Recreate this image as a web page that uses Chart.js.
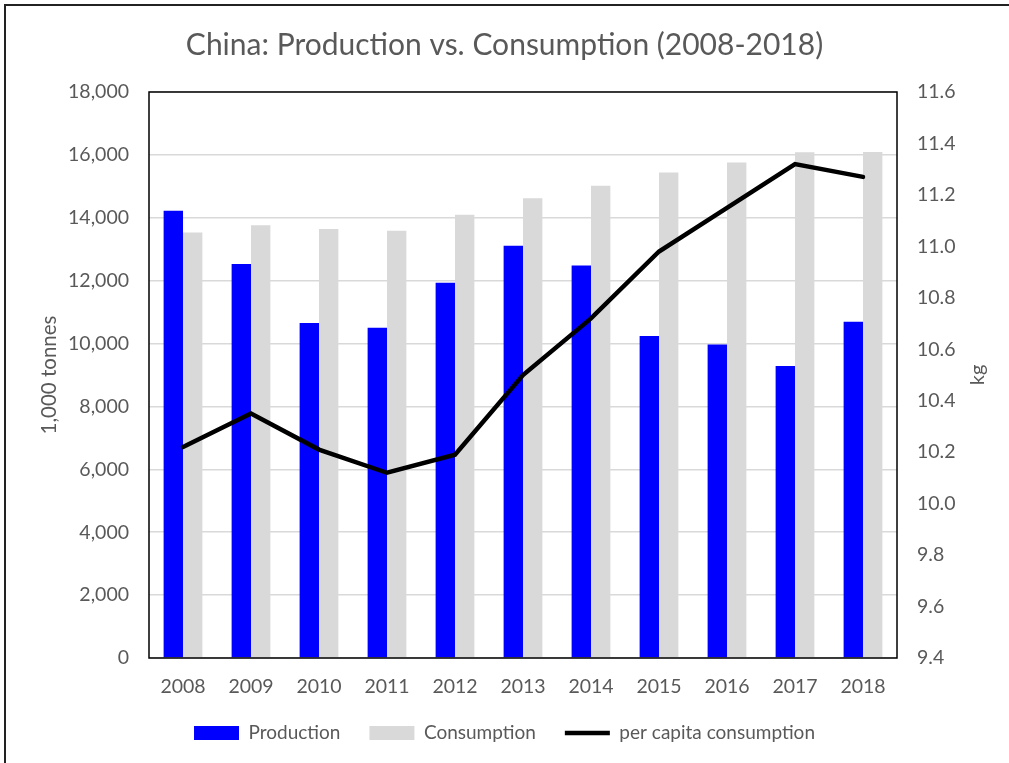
<!DOCTYPE html>
<html>
<head>
<meta charset="utf-8">
<title>China: Production vs. Consumption</title>
<script src="https://cdn.jsdelivr.net/npm/chart.js@4"></script>
<style>
html, body { margin: 0; padding: 0; background: #fff; }
#wrap { position: absolute; left: 0; top: 0; width: 1009px; height: 763px; }
</style>
</head>
<body>
<div id="wrap"><canvas id="chart" width="1009" height="763"></canvas></div>
<script>
let years = ["2008","2009","2010","2011","2012","2013","2014","2015","2016","2017","2018"];
let production = [14220, 12530, 10650, 10500, 11930, 13110, 12480, 10240, 9970, 9290, 10690];
let consumption = [13530, 13760, 13640, 13590, 14100, 14620, 15020, 15440, 15760, 16080, 16090];
let perCapita = [10.22, 10.35, 10.21, 10.12, 10.19, 10.50, 10.72, 10.98, 11.15, 11.32, 11.27];

const FONT = "Lato, 'Liberation Sans', sans-serif";
const GREY_TEXT = "#595959";

// white page, plot frame, outer border and the right axis title
const framePlugin = {
id: "frame",
beforeDraw(c){
let ctx = c.ctx;
ctx.save();
ctx.fillStyle = "#fff";
ctx.fillRect(0, 0, c.width, c.height);
ctx.restore();
},
afterDraw(c){
let ctx = c.ctx;
let a = c.chartArea;
ctx.save();
ctx.strokeStyle = "#000";
ctx.lineWidth = 1.5;
ctx.strokeRect(a.left, a.top, a.right - a.left, a.bottom - a.top);

ctx.strokeStyle = "#222";
ctx.lineWidth = 2;
ctx.beginPath();
ctx.moveTo(5, c.height);
ctx.lineTo(5, 5);
ctx.lineTo(c.width, 5);
ctx.stroke();

ctx.fillStyle = GREY_TEXT;
ctx.font = "20px " + FONT;
ctx.textAlign = "center";
ctx.textBaseline = "middle";
ctx.translate(978, (a.top + a.bottom) / 2);
ctx.rotate(-Math.PI / 2);
ctx.fillText("kg", 0, 0);
ctx.restore();
}
};

chart = new Chart(document.getElementById("chart"), {
type: "bar",
data: {
labels: years,
datasets: [{
type: "line",
label: "per capita consumption",
data: perCapita,
yAxisID: "y1",
borderColor: "#000",
backgroundColor: "#000",
borderWidth: 4.5,
borderCapStyle: "round",
pointRadius: 0,
pointStyle: "line",
tension: 0,
order: 0
},{
label: "Production",
data: production,
backgroundColor: "#0000ff",
borderWidth: 0,
pointStyle: "rect",
order: 1
},{
label: "Consumption",
data: consumption,
backgroundColor: "#d9d9d9",
borderWidth: 0,
pointStyle: "rect",
order: 1
}]
},
options: {
responsive: false,
animation: false,
devicePixelRatio: 1,
categoryPercentage: 0.57,
barPercentage: 1,
layout: { padding: { left: 0, right: 0, top: 0, bottom: 10.5 } },
plugins: {
title: {
display: true,
text: "China: Production vs. Consumption (2008-2018)",
color: GREY_TEXT,
font: { family: FONT, size: 30, weight: "normal" },
padding: { top: 27, bottom: 29 }
},
legend: {
position: "bottom",
labels: {
color: GREY_TEXT,
font: { family: FONT, size: 19 },
usePointStyle: true,
pointStyleWidth: 45,
boxHeight: 14,
padding: 29,
sort: (a, b) => [1, 2, 0].indexOf(a.datasetIndex) - [1, 2, 0].indexOf(b.datasetIndex)
}
},
tooltip: { enabled: false }
},
scales: {
x: {
grid: { display: false, drawTicks: false },
border: { display: false },
ticks: { color: GREY_TEXT, font: { family: FONT, size: 19.5 }, padding: 17 },
afterFit(s){ s.height = 36.5; }
},
y: {
position: "left",
min: 0,
max: 18000,
ticks: {
stepSize: 2000,
color: GREY_TEXT,
font: { family: FONT, size: 19.5 },
padding: 20,
callback: v => v.toLocaleString("en-US")
},
grid: { color: "#d9d9d9", lineWidth: 1.5, drawTicks: false },
border: { display: false },
title: {
display: true,
text: "1,000 tonnes",
color: GREY_TEXT,
font: { family: FONT, size: 20.5 },
padding: { top: 37.5, bottom: 0 }
},
afterFit(s){ s.width = 149; }
},
y1: {
position: "right",
min: 9.4,
max: 11.6,
ticks: {
stepSize: 0.2,
color: GREY_TEXT,
font: { family: FONT, size: 19.5 },
padding: 20,
callback: v => v.toFixed(1)
},
grid: { display: false, drawTicks: false },
border: { display: false },
afterFit(s){ s.width = 112; }
}
}
},
plugins: [framePlugin]
});
</script>
</body>
</html>
